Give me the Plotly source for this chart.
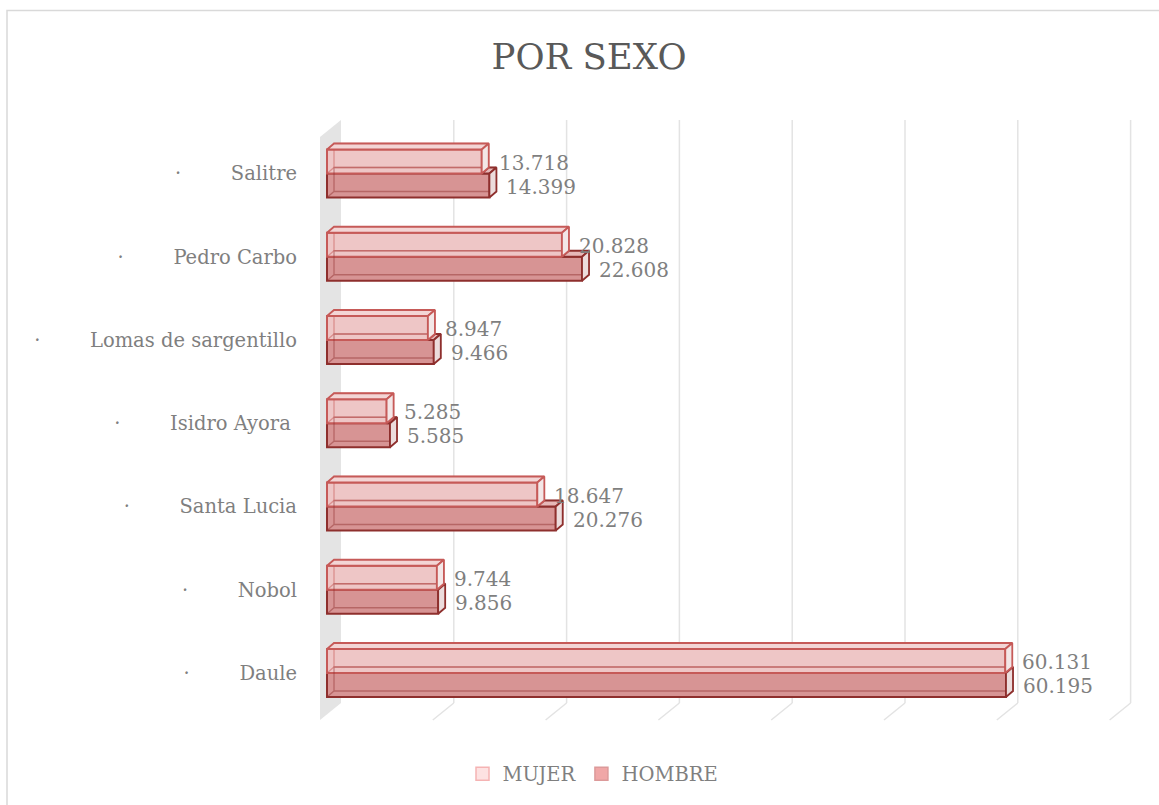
import plotly.graph_objects as go

# ---------------- data ----------------
categories = ["Daule", "Nobol", "Santa Lucia", "Isidro Ayora",
              "Lomas de sargentillo", "Pedro Carbo", "Salitre"]
tick_labels = ["Daule", "Nobol", "Santa Lucia", "Isidro Ayora\u00a0",
               "Lomas de sargentillo", "Pedro Carbo", "Salitre"]
mujer = [60131, 9744, 18647, 5285, 8947, 20828, 13718]
hombre = [60195, 9856, 20276, 5585, 9466, 22608, 14399]
series_names = ["MUJER", "HOMBRE"]
grid_values = [10000, 20000, 30000, 40000, 50000, 60000, 70000]

# ---------------- layout geometry ----------------
PAGE = 0                 # body margin removed via post_script
W, H = 1159 - PAGE, 805 - PAGE


def fx(p):               # page pixel -> figure pixel
    return p - PAGE


L, R_PX, T, B = fx(300), fx(1145), fx(110), fx(730)
ZERO_PX = fx(327.0)
PXU = 0.01128            # pixels per unit on x
CAT0_PX = fx(673.0)      # pixel y of first category centre
CAT_PX = 83.25           # pixels per category

x_range = [(L - ZERO_PX) / PXU, (R_PX - ZERO_PX) / PXU]
y_range = [(CAT0_PX - B) / CAT_PX, (CAT0_PX - T) / CAT_PX]


def px_x(p):             # horizontal pixel offset -> x units
    return p / PXU


def py(p):               # absolute page pixel y -> y units
    return (CAT0_PX - fx(p)) / CAT_PX


BW = 0.2883              # bar thickness (category units)
DX = px_x(7)             # depth offset x
DY = 6 / CAT_PX          # depth offset y

FONT = "DejaVu Serif"
GRAY = "#7f7f7f"

M_FRONT, M_TOP, M_SIDE, M_LINE = "#eec6c6", "#f3d5d5", "#f3e7e7", "#c65a58"
H_FRONT, H_TOP, H_SIDE, H_LINE = "#d79494", "#e6b8b8", "#ecdcdc", "#8e2f2d"

idx = list(range(len(categories)))

fig = go.Figure()

# front faces (bars)
fig.add_trace(go.Bar(orientation="h", y=idx, x=hombre, base=0, offset=-BW, width=BW,
                     marker=dict(color=H_FRONT, line=dict(color=H_LINE, width=2)),
                     showlegend=False, hoverinfo="skip"))
fig.add_trace(go.Bar(orientation="h", y=idx, x=mujer, base=0, offset=0, width=BW,
                     marker=dict(color=M_FRONT, line=dict(color=M_LINE, width=2)),
                     showlegend=False, hoverinfo="skip"))


def back_edges(vals, y0s, color):
    xs, ys = [], []
    for v, y0 in zip(vals, y0s):
        y1 = y0 + BW
        xs += [0, DX, v + DX, v + DX, DX, DX, None]
        ys += [y0, y0 + DY, y0 + DY, y1 + DY, y1 + DY, y0 + DY, None]
    return go.Scatter(x=xs, y=ys, mode="lines", line=dict(color=color, width=1.3),
                      showlegend=False, hoverinfo="skip")


fig.add_trace(back_edges(hombre, [c - BW for c in idx], "rgba(142,47,45,0.45)"))
fig.add_trace(back_edges(mujer, idx, "rgba(196,80,78,0.45)"))


def poly_trace(polys, fill, line):
    xs, ys = [], []
    for p in polys:
        for (a, b) in p + [p[0]]:
            xs.append(a)
            ys.append(b)
        xs.append(None)
        ys.append(None)
    return go.Scatter(x=xs, y=ys, mode="lines", fill="toself", fillcolor=fill,
                      line=dict(color=line, width=1.8), showlegend=False,
                      hoverinfo="skip")


h_top, h_side, m_top, m_side = [], [], [], []
for c, m, h in zip(idx, mujer, hombre):
    if h > m:
        h_top.append([(m, c), (h, c), (h + DX, c + DY), (m + DX, c + DY)])
    h_side.append([(h, c - BW), (h, c), (h + DX, c + DY), (h + DX, c - BW + DY)])
    m_top.append([(0, c + BW), (m, c + BW), (m + DX, c + BW + DY), (DX, c + BW + DY)])
    m_side.append([(m, c), (m, c + BW), (m + DX, c + BW + DY), (m + DX, c + DY)])

fig.add_trace(poly_trace(h_top, H_TOP, H_LINE))
fig.add_trace(poly_trace(h_side, H_SIDE, H_LINE))
fig.add_trace(poly_trace(m_top, M_TOP, M_LINE))
fig.add_trace(poly_trace(m_side, M_SIDE, M_LINE))

# legend entries
fig.add_trace(go.Scatter(x=[None], y=[None], mode="markers", name=series_names[0],
                         marker=dict(symbol="square", size=13, color="#fde2e2",
                                     line=dict(color="#f5b3b3", width=1.5))))
fig.add_trace(go.Scatter(x=[None], y=[None], mode="markers", name=series_names[1],
                         marker=dict(symbol="square", size=13, color="#f0a7a7",
                                     line=dict(color="#dc9a9a", width=1.5))))

# data labels
fmt = lambda v: f"{v:,}".replace(",", ".")
annotations = []
for c, m, h in zip(idx, mujer, hombre):
    annotations.append(dict(x=m, y=c + BW / 2, text=fmt(m), xref="x", yref="y",
                            xanchor="left", yanchor="middle", xshift=15, yshift=-1,
                            showarrow=False, font=dict(family=FONT, size=20, color=GRAY)))
    annotations.append(dict(x=h, y=c - BW / 2, text=fmt(h), xref="x", yref="y",
                            xanchor="left", yanchor="middle", xshift=15, yshift=-1,
                            showarrow=False, font=dict(family=FONT, size=20, color=GRAY)))

# wall, gridlines, border
shapes = []
wx_front, wx_back = px_x(-7), px_x(14)
shapes.append(dict(type="path", xref="x", yref="y", layer="below",
                   path=f"M{wx_front},{py(720)} L{wx_back},{py(703)} L{wx_back},{py(120)} "
                        f"L{wx_front},{py(137)} Z",
                   fillcolor="#e4e4e4", line=dict(width=0)))
for g in grid_values:
    shapes.append(dict(type="line", xref="x", yref="y", layer="below",
                       x0=g + wx_back, x1=g + wx_back, y0=py(703), y1=py(120),
                       line=dict(color="#e3e3e3", width=1.5)))
    shapes.append(dict(type="line", xref="x", yref="y", layer="below",
                       x0=g + wx_back, x1=g + wx_front, y0=py(703), y1=py(720),
                       line=dict(color="#e3e3e3", width=1.5)))
pw, ph = R_PX - L, B - T
shapes.append(dict(type="rect", xref="paper", yref="paper", layer="above",
                   x0=(fx(7) - L) / pw, x1=(fx(1180) - L) / pw,
                   y0=(B - fx(830)) / ph, y1=(B - fx(10.5)) / ph,
                   line=dict(color="#d9d9d9", width=1.5), fillcolor="rgba(0,0,0,0)"))

ticktext = ["\u00b7" + "\u00a0" * 8 + t for t in tick_labels]

fig.update_layout(
    width=W, height=H,
    margin=dict(l=L, r=W - R_PX, t=T, b=H - B),
    paper_bgcolor="white", plot_bgcolor="white",
    barmode="overlay",
    title=dict(text="POR SEXO", x=fx(589) / W, xanchor="center", y=1 - fx(57) / H,
               yanchor="middle", xref="container", yref="container",
               font=dict(family=FONT, size=35.5, color="#595959")),
    xaxis=dict(range=x_range, showgrid=False, zeroline=False, showline=False,
               showticklabels=False, ticks="", fixedrange=True),
    yaxis=dict(range=y_range, tickmode="array", tickvals=idx, ticktext=ticktext,
               showgrid=False, zeroline=False, showline=False, ticks="",
               ticklabelstandoff=2,
               tickfont=dict(family=FONT, size=19.5, color=GRAY), fixedrange=True),
    legend=dict(orientation="h", x=(fx(593) - L) / pw, xanchor="center",
                y=(B - fx(774)) / ph, yanchor="middle",
                font=dict(family=FONT, size=19.5, color=GRAY),
                bgcolor="rgba(0,0,0,0)"),
    annotations=annotations,
    shapes=shapes,
    showlegend=True,
)

fig.write_html("out.html",
               config={"displayModeBar": False},
               post_script="document.body.style.margin='0';document.body.style.overflow='hidden';")
